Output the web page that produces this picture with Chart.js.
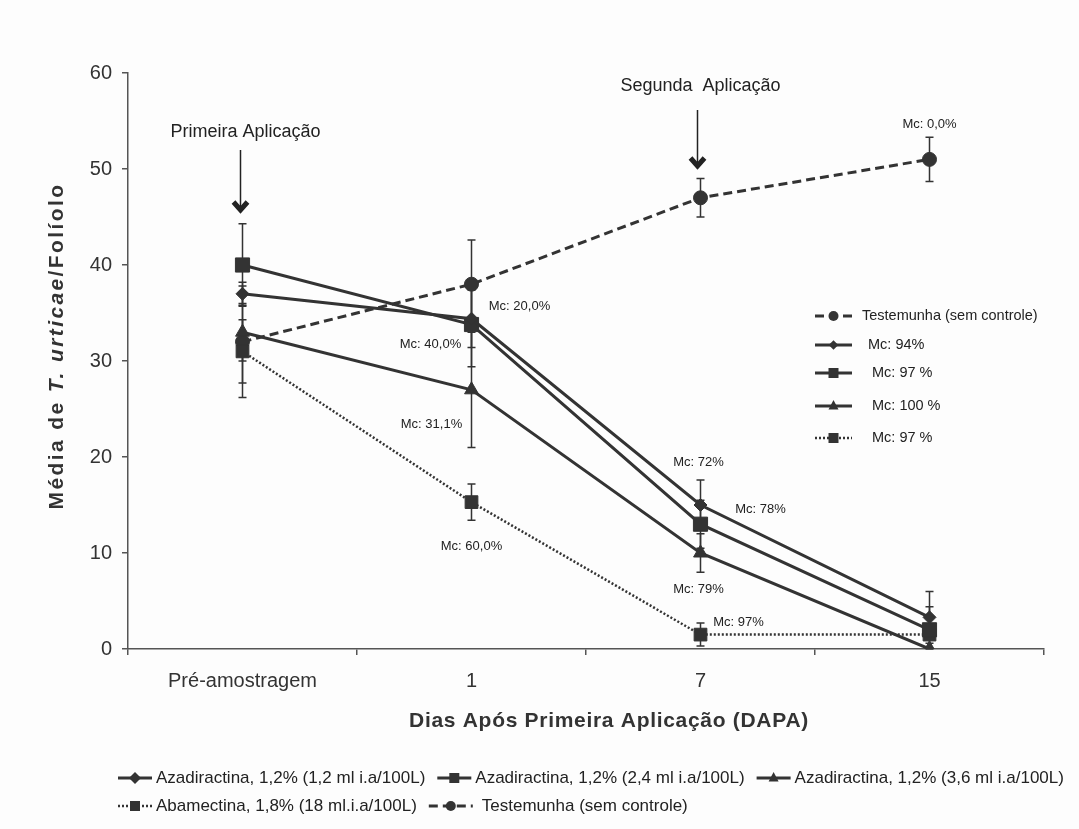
<!DOCTYPE html>
<html>
<head>
<meta charset="utf-8">
<script src="https://cdn.jsdelivr.net/npm/chart.js@4.4.0/dist/chart.umd.min.js"></script>
<style>
  html, body { margin: 0; padding: 0; background: #fdfdfd; }
  #wrap { width: 1079px; height: 829px; }
</style>
</head>
<body>
<div id="wrap"><canvas id="grafico" width="1079" height="829"></canvas></div>
<script>
// categorias e valores
const dias = ['Pré-amostragem', '1', '7', '15'];

const azad12 = [37, 34.4, 15, 3.3];
const azad24 = [40, 33.8, 13, 2];
const azad36 = [33, 27, 10, 0];
const abamectina = [31, 15.3, 1.5, 1.5];
const testemunha = [32, 38, 47, 51];

// erro padrao (barras)
const errAzad12 = [1.2, 3, 2.6, 2.7];
const errAzad24 = [4.3, 4.4, 2.5, 2.4];
const errAzad36 = [3, 6, 2, 0];
const errAbamectina = [3.3, 1.9, 1.2, 0.3];
const errTestemunha = [5.8, 4.6, 2, 2.3];

const yTicks = [0, 10, 20, 30, 40, 50, 60];

// rotulos Mc: [texto, categoria, valor, deslocamento x]
const rotulosMc = [
  ['Mc: 0,0%', 3, 54.6, 0],
  ['Mc: 20,0%', 1, 35.7, 48],
  ['Mc: 40,0%', 1, 31.7, -41],
  ['Mc: 31,1%', 1, 23.4, -40],
  ['Mc: 60,0%', 1, 10.7, 0],
  ['Mc: 72%', 2, 19.4, -2],
  ['Mc: 78%', 2, 14.5, 60],
  ['Mc: 79%', 2, 6.2, -2],
  ['Mc: 97%', 2, 2.8, 38]
];

const cor = '#333';
const FONTE = '"Liberation Sans", Arial, sans-serif';

function serie(label, data, err, style, radius, dash, width) {
  return {
    label: label,
    data: data,
    err: err,
    borderColor: cor,
    backgroundColor: cor,
    borderWidth: width,
    borderDash: dash,
    pointStyle: style,
    pointRadius: radius,
    pointBackgroundColor: cor,
    pointBorderColor: cor,
    pointBorderWidth: 1,
    tension: 0
  };
}

const datasets = [
  serie('Azadiractina, 1,2% (1,2 ml i.a/100L)', azad12, errAzad12, 'rectRot', 6.5, [], 3),
  serie('Azadiractina, 1,2% (2,4 ml i.a/100L)', azad24, errAzad24, 'rect', 10, [], 3),
  serie('Azadiractina, 1,2% (3,6 ml i.a/100L)', azad36, errAzad36, 'triangle', 8, [], 3),
  serie('Abamectina, 1,8% (18 ml.i.a/100L)', abamectina, errAbamectina, 'rect', 9, [2, 2], 2.5),
  serie('Testemunha (sem controle)', testemunha, errTestemunha, 'circle', 7, [9, 5], 3)
];

function marcador(ctx, style, x, y, r) {
  ctx.save();
  ctx.fillStyle = cor;
  ctx.setLineDash([]);
  ctx.beginPath();
  if (style === 'circle') {
    ctx.arc(x, y, r, 0, Math.PI * 2);
  } else if (style === 'rect') {
    ctx.rect(x - r, y - r, 2 * r, 2 * r);
  } else if (style === 'rectRot') {
    ctx.moveTo(x, y - r * 1.2); ctx.lineTo(x + r * 1.2, y);
    ctx.lineTo(x, y + r * 1.2); ctx.lineTo(x - r * 1.2, y);
  } else if (style === 'triangle') {
    ctx.moveTo(x, y - r * 1.2); ctx.lineTo(x + r, y + r * 0.7); ctx.lineTo(x - r, y + r * 0.7);
  }
  ctx.closePath();
  ctx.fill();
  ctx.restore();
}

function itemLegenda(ctx, ds, x, y, len, r) {
  ctx.save();
  ctx.strokeStyle = cor;
  ctx.lineWidth = ds.borderWidth;
  ctx.setLineDash(ds.borderDash);
  ctx.beginPath();
  ctx.moveTo(x, y); ctx.lineTo(x + len, y);
  ctx.stroke();
  ctx.restore();
  marcador(ctx, ds.pointStyle, x + len / 2, y, r);
}

function seta(ctx, x, y1, y2) {
  ctx.save();
  ctx.strokeStyle = '#222';
  ctx.lineWidth = 1.5;
  ctx.beginPath();
  ctx.moveTo(x, y1); ctx.lineTo(x, y2 - 3);
  ctx.stroke();
  ctx.lineWidth = 5;
  ctx.lineJoin = 'miter';
  ctx.beginPath();
  ctx.moveTo(x - 7, y2 - 10); ctx.lineTo(x, y2 - 2); ctx.lineTo(x + 7, y2 - 10);
  ctx.stroke();
  ctx.restore();
}

const extras = {
  id: 'extras',
  beforeDatasetsDraw(chart) {
    const ctx = chart.ctx;
    const ys = chart.scales.y;
    ctx.save();
    ctx.strokeStyle = cor;
    ctx.lineWidth = 1.5;
    chart.data.datasets.forEach((ds, i) => {
      const meta = chart.getDatasetMeta(i);
      ds.data.forEach((v, j) => {
        const e = ds.err[j];
        if (!e) return;
        const x = meta.data[j].x;
        const top = ys.getPixelForValue(v + e);
        const bot = ys.getPixelForValue(Math.max(0, v - e));
        ctx.beginPath();
        ctx.moveTo(x, top); ctx.lineTo(x, bot);
        ctx.moveTo(x - 4, top); ctx.lineTo(x + 4, top);
        ctx.moveTo(x - 4, bot); ctx.lineTo(x + 4, bot);
        ctx.stroke();
      });
    });
    ctx.restore();
  },
  afterDraw(chart) {
    const ctx = chart.ctx;
    const xs = chart.scales.x, ys = chart.scales.y;
    const area = chart.chartArea;
    ctx.save();
    ctx.fillStyle = '#222';
    ctx.textAlign = 'center';
    ctx.textBaseline = 'middle';

    // rotulos Mc
    ctx.font = '13px ' + FONTE;
    rotulosMc.forEach(r => {
      ctx.fillText(r[0], xs.getPixelForValue(r[1]) + r[3], ys.getPixelForValue(r[2]));
    });

    // aplicacoes
    ctx.font = '18px ' + FONTE;
    const x0 = xs.getPixelForValue(0) - 2;
    ctx.fillText('Primeira Aplicação', x0 + 5, 132);
    seta(ctx, x0, 150, 212);
    const x2 = xs.getPixelForValue(2) - 3;
    ctx.fillText('Segunda  Aplicação', x2 + 3, 86);
    seta(ctx, x2, 110, 168);

    // titulo eixo x
    ctx.fillStyle = '#333';
    ctx.font = 'bold 21px ' + FONTE;
    ctx.letterSpacing = '0.7px';
    ctx.fillText('Dias Após Primeira Aplicação (DAPA)', (area.left + area.right) / 2 + 23, 721);

    // titulo eixo y com parte em italico
    ctx.letterSpacing = '2.4px';
    const partes = [['bold 21px ', 'Média de '], ['italic bold 21px ', 'T. urticae'], ['bold 21px ', '/Folíolo']];
    let total = 0;
    partes.forEach(p => { ctx.font = p[0] + FONTE; total += ctx.measureText(p[1]).width; });
    ctx.translate(57, 346);
    ctx.rotate(-Math.PI / 2);
    ctx.textAlign = 'left';
    let px = -total / 2;
    partes.forEach(p => {
      ctx.font = p[0] + FONTE;
      ctx.fillText(p[1], px, 0);
      px += ctx.measureText(p[1]).width;
    });
    ctx.restore();

    // legenda interna
    ctx.save();
    ctx.fillStyle = '#222';
    ctx.textBaseline = 'middle';
    ctx.font = '14.5px ' + FONTE;
    const interna = [
      [4, 'Testemunha (sem controle)', 316, 862, 5],
      [0, 'Mc: 94%', 345, 868, 4],
      [1, 'Mc: 97 %', 373, 872, 5],
      [2, 'Mc: 100 %', 406, 872, 5],
      [3, 'Mc: 97 %', 438, 872, 5]
    ];
    interna.forEach(it => {
      itemLegenda(ctx, chart.data.datasets[it[0]], 815, it[2], 37, it[4]);
      ctx.fillText(it[1], it[3], it[2]);
    });

    // legenda inferior
    ctx.font = '17px ' + FONTE;
    const linhas = [[[0, 1, 2], 778], [[3, 4], 806]];
    linhas.forEach(l => {
      let x = 118;
      l[0].forEach(i => {
        const ds = chart.data.datasets[i];
        const len = i === 4 ? 44 : 34;
        itemLegenda(ctx, ds, x, l[1], len, 5);
        x += len + 4;
        if (i === 4) x += 5;
        ctx.fillText(ds.label, x, l[1]);
        x += ctx.measureText(ds.label).width + 12;
      });
    });
    ctx.restore();
  }
};

new Chart(document.getElementById('grafico').getContext('2d'), {
  type: 'line',
  data: { labels: dias, datasets: datasets },
  plugins: [extras],
  options: {
    responsive: false,
    animation: false,
    layout: { padding: { top: 73, right: 35, left: 0, bottom: 0 } },
    plugins: { legend: { display: false }, tooltip: { enabled: false } },
    scales: {
      x: {
        offset: true,
        grid: { offset: true, drawOnChartArea: false, drawTicks: true, tickLength: 6, color: '#555', lineWidth: 1.5 },
        border: { color: '#555', width: 1.5 },
        ticks: { color: '#333', font: { family: FONTE, size: 20 }, padding: 14, maxRotation: 0 },
        afterFit(s) { s.height = 180; }
      },
      y: {
        min: 0,
        max: 60,
        afterBuildTicks(s) { s.ticks = yTicks.map(v => ({ value: v })); },
        grid: { drawOnChartArea: false, drawTicks: true, tickLength: 6, color: '#555', lineWidth: 1.5 },
        border: { color: '#555', width: 1.5 },
        ticks: { color: '#333', font: { family: FONTE, size: 20 }, padding: 10 },
        afterFit(s) { s.width = 128; }
      }
    }
  }
});
</script>
</body>
</html>
